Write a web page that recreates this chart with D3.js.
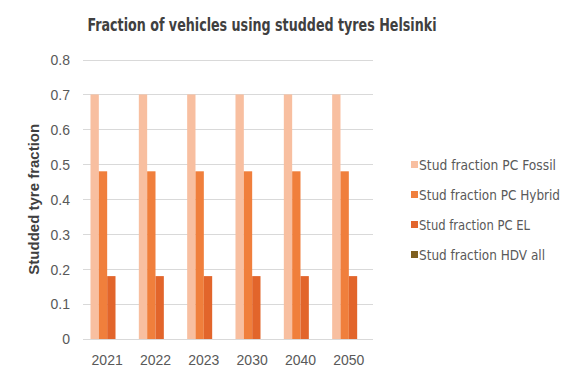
<!DOCTYPE html>
<html><head><meta charset="utf-8">
<script src="https://cdn.jsdelivr.net/npm/d3@7"></script>
<style>body{margin:0;background:#fff;} svg{display:block;}</style>
</head><body>
<svg id="c" width="579" height="380"></svg>
<script>
const categories = ["2021","2022","2023","2030","2040","2050"];
const seriesNames = ["Stud fraction PC Fossil","Stud fraction PC Hybrid","Stud fraction PC EL","Stud fraction HDV all"];
const fossil = [0.7,0.7,0.7,0.7,0.7,0.7];
const hybrid = [0.48,0.48,0.48,0.48,0.48,0.48];
const el = [0.18,0.18,0.18,0.18,0.18,0.18];
const hdv = [0,0,0,0,0,0];
const yTicks = [0,0.1,0.2,0.3,0.4,0.5,0.6,0.7,0.8];
const colors = ["#F8BFA0","#F07F3C","#E2652B","#7F5F1E"];
const seriesValues = [fossil, hybrid, el, hdv];

const svg = d3.select("#c");
const m = {left:83, right:373, top:59.5, bottom:339};
const x = d3.scaleBand().domain(categories).range([m.left,m.right]).paddingInner(0.31).paddingOuter(0.155);
const xs = d3.scaleBand().domain(d3.range(seriesNames.length)).range([0,x.bandwidth()]);
const y = d3.scaleLinear().domain([0,0.8]).range([m.bottom,m.top]);

// grid
svg.append("g").selectAll("line").data(yTicks).join("line")
  .attr("x1",m.left).attr("x2",m.right)
  .attr("y1",d=>Math.round(y(d))+0.5).attr("y2",d=>Math.round(y(d))+0.5)
  .attr("stroke","#D9D9D9").attr("stroke-width",1);

// bars
seriesValues.forEach((vals,si)=>{
  svg.append("g").selectAll("rect").data(vals).join("rect")
    .attr("x",(d,i)=>x(categories[i])+xs(si))
    .attr("width",xs.bandwidth())
    .attr("y",d=>y(d)).attr("height",d=>y(0)-y(d))
    .attr("fill",colors[si]);
});

// y axis labels
const yAxis = d3.axisLeft(y).tickValues(yTicks).tickSize(0).tickPadding(0).tickFormat(d3.format(""));
const ya = svg.append("g").attr("transform",`translate(70,0)`).call(yAxis);
ya.select(".domain").remove();
ya.selectAll("text").attr("font-family","Liberation Sans, Arial, sans-serif").attr("font-size","14px").attr("fill","#595959").attr("dy","0.35em");

// x axis labels
const xAxis = d3.axisBottom(x).tickSize(0).tickPadding(0);
const xa = svg.append("g").attr("transform",`translate(0,${m.bottom+16})`).call(xAxis);
xa.select(".domain").remove();
xa.selectAll("text").attr("font-family","Liberation Sans, Arial, sans-serif").attr("font-size","14px").attr("fill","#595959").attr("dy","0.71em");

// title
svg.append("text").attr("x",262).attr("y",31).attr("text-anchor","middle")
  .attr("font-family","'DejaVu Sans Condensed',sans-serif").attr("font-weight","bold")
  .attr("font-size","17.5px").attr("fill","#404040")
  .attr("textLength",349).attr("lengthAdjust","spacingAndGlyphs")
  .text("Fraction of vehicles using studded tyres Helsinki");

// y title
svg.append("text").attr("transform",`translate(39,${(m.top+m.bottom)/2+0}) rotate(-90)`)
  .attr("text-anchor","middle")
  .attr("font-family","Liberation Sans, Arial, sans-serif").attr("font-weight","bold")
  .attr("font-size","15px").attr("fill","#404040")
  .text("Studded tyre fraction");

// legend
const lg = svg.append("g");
seriesNames.forEach((n,i)=>{
  const yy = 165 + i*30;
  lg.append("rect").attr("x",411).attr("y",yy-4).attr("width",7).attr("height",7).attr("fill",colors[i]);
  lg.append("text").attr("x",419).attr("y",yy).attr("dy","0.35em")
    .attr("font-family","'DejaVu Sans Condensed',sans-serif").attr("font-size","13.5px").attr("fill","#595959")
    .attr("textLength",[137,141,111,126][i]).attr("lengthAdjust","spacingAndGlyphs").text(n);
});
</script>
</body></html>
